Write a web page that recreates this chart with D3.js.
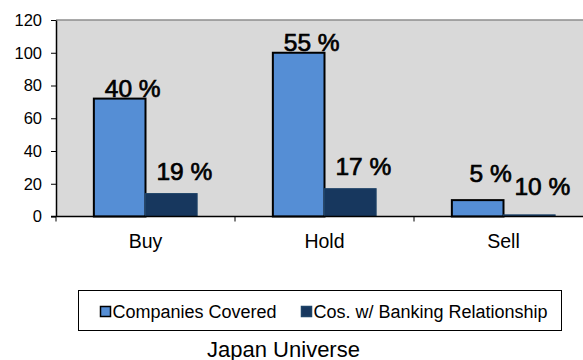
<!DOCTYPE html>
<html>
<head>
<meta charset="utf-8">
<script src="https://cdn.jsdelivr.net/npm/d3@7"></script>
<style>
  html, body { margin: 0; padding: 0; background: #ffffff; }
  svg { display: block; font-family: "Liberation Sans", Arial, sans-serif; }
</style>
</head>
<body>
<svg id="chart" width="583" height="360"></svg>
<script>
// Rating distribution, Japan universe
const categories = ["Buy", "Hold", "Sell"];
const seriesNames = ["Companies Covered", "Cos. w/ Banking Relationship"];
const covered = [72, 100, 10];
const banking = [14, 17, 1];
const coveredLabels = ["40 %", "55 %", "5 %"];
const bankingLabels = ["19 %", "17 %", "10 %"];
const yTicks = [0, 20, 40, 60, 80, 100, 120];
const title = "Japan Universe";

const colors = ["#558ed5", "#17375e"];
// how far each value label sits above its bar top (px)
const labelLift = [[2, 1.5, 18], [14, 14, 20]];

const svg = d3.select("#chart");
const plot = { left: 56, right: 593, top: 20, bottom: 216.5 };

const x = d3.scaleBand().domain(categories).range([plot.left, plot.right])
  .paddingInner(0.423).paddingOuter(0.2115);
const xs = d3.scaleBand().domain([0, 1]).range([0, x.bandwidth()]);
const y = d3.scaleLinear().domain([0, 120]).range([plot.bottom, plot.top]);

// plot area
svg.append("rect").attr("x", plot.left).attr("y", plot.top)
  .attr("width", plot.right - plot.left).attr("height", plot.bottom - plot.top)
  .attr("fill", "#d9d9d9");
svg.append("line").attr("x1", plot.left).attr("x2", plot.right)
  .attr("y1", plot.top).attr("y2", plot.top)
  .attr("stroke", "#8c8c8c").attr("stroke-width", 1.5);

const series = [covered, banking];
const labels = [coveredLabels, bankingLabels];

series.forEach((vals, s) => {
  svg.append("g").selectAll("rect").data(vals).join("rect")
    .attr("x", (d, i) => x(categories[i]) + xs(s))
    .attr("y", d => y(d))
    .attr("width", xs.bandwidth())
    .attr("height", d => y(0) - y(d))
    .attr("fill", colors[s])
    .attr("stroke", s === 0 ? "#000" : "#1f4468")
    .attr("stroke-width", s === 0 ? 2 : 1);
});

series.forEach((vals, s) => {
  svg.append("g").selectAll("text").data(vals).join("text")
    .attr("x", (d, i) => x(categories[i]) + xs(s) + xs.bandwidth() / 2 + 13)
    .attr("y", (d, i) => y(d) - labelLift[s][i])
    .attr("text-anchor", "middle")
    .attr("font-size", 24.5)
    .attr("fill", "#000")
    .attr("stroke", "#000")
    .attr("stroke-width", 0.7)
    .text((d, i) => labels[s][i]);
});

// y axis
const yAxis = svg.append("g").attr("transform", `translate(${plot.left},0)`)
  .call(d3.axisLeft(y).tickValues(yTicks).tickSize(5).tickPadding(9).tickSizeOuter(0));
yAxis.select(".domain").attr("stroke", "#000").attr("stroke-width", 1.5);
yAxis.selectAll(".tick line").attr("stroke", "#000");
yAxis.selectAll(".tick text").attr("font-size", 16.5).attr("fill", "#000")
  .attr("font-family", "Liberation Sans, Arial, sans-serif");

// x axis with boundary ticks between categories
const xAxis = svg.append("g").attr("transform", `translate(0,${plot.bottom})`);
xAxis.append("line").attr("x1", plot.left - 5).attr("x2", plot.right).attr("y1", 0).attr("y2", 0)
  .attr("stroke", "#000").attr("stroke-width", 1.5);
xAxis.selectAll("line.b").data(categories.slice(1)).join("line")
  .attr("class", "b")
  .attr("x1", d => x(d) - x.step() * x.paddingInner() / 2)
  .attr("x2", d => x(d) - x.step() * x.paddingInner() / 2)
  .attr("y1", 0).attr("y2", 5).attr("stroke", "#000");
xAxis.append("line").attr("x1", plot.left).attr("x2", plot.left).attr("y1", 0).attr("y2", 5).attr("stroke", "#000");
xAxis.selectAll("text").data(categories).join("text")
  .attr("x", d => x(d) + x.bandwidth() / 2)
  .attr("y", 31)
  .attr("text-anchor", "middle")
  .attr("font-size", 19.5)
  .attr("fill", "#000")
  .text(d => d);

// legend
const lg = svg.append("g");
lg.append("rect").attr("x", 78.5).attr("y", 290.5).attr("width", 483).attr("height", 40)
  .attr("fill", "#fff").attr("stroke", "#000").attr("stroke-width", 1);
const legendX = [100, 301];
seriesNames.forEach((name, s) => {
  lg.append("rect").attr("x", legendX[s] + 0.5).attr("y", 306.5).attr("width", 10).attr("height", 10)
    .attr("fill", colors[s]).attr("stroke", s === 0 ? "#000" : "#1f4468").attr("stroke-width", 1.5);
  lg.append("text").attr("x", legendX[s] + 12.5).attr("y", 317.5)
    .attr("font-size", 18).attr("fill", "#000").text(name);
});

svg.append("text").attr("x", 283.5).attr("y", 356.5).attr("text-anchor", "middle")
  .attr("font-size", 22).attr("fill", "#000").text(title);
</script>
</body>
</html>
